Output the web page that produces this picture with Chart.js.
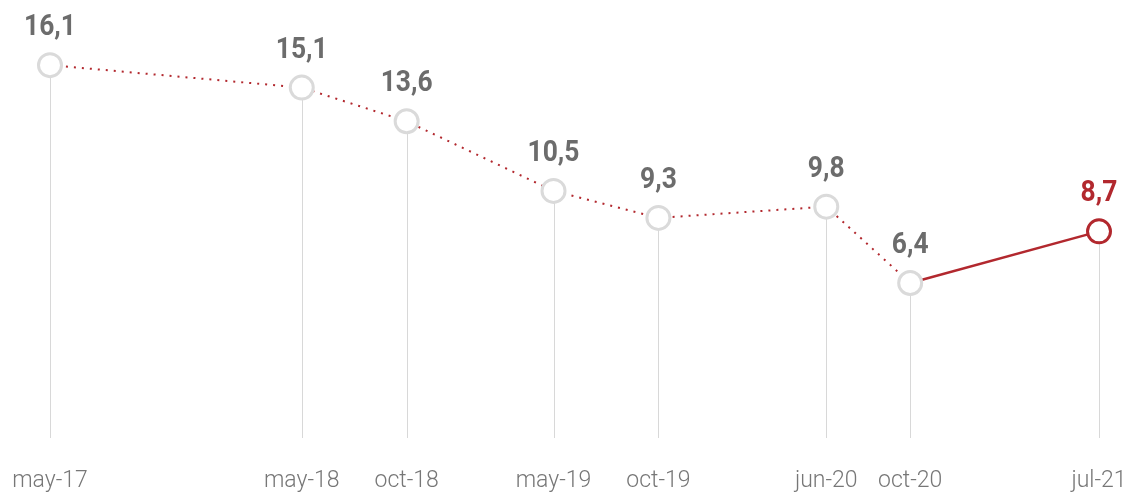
<!DOCTYPE html>
<html>
<head>
<meta charset="utf-8">
<script src="https://cdn.jsdelivr.net/npm/chart.js@4/dist/chart.umd.min.js"></script>
<style>
  html, body { margin: 0; padding: 0; background: #fff; }
</style>
</head>
<body>
<canvas id="myChart" width="1128" height="492"></canvas>
<script>
// months counted from may-17
const months = [0, 12, 17, 24, 29, 37, 41, 50]
const labels = ['may-17', 'may-18', 'oct-18', 'may-19', 'oct-19', 'jun-20', 'oct-20', 'jul-21']
const values = [16.1, 15.1, 13.6, 10.5, 9.3, 9.8, 6.4, 8.7]

const red = '#b2282e'
const grey = '#6c6c6c'
const last = values.length - 1

// vertical lines from each point down to the bottom of the plot
const dropLines = {
  id: 'dropLines',
  beforeDatasetsDraw(chart) {
    const {ctx, chartArea, scales} = chart
    ctx.save()
    ctx.strokeStyle = '#d8d8d8'
    ctx.lineWidth = 1
    months.forEach((m, i) => {
      const x = Math.round(scales.x.getPixelForValue(m)) + 0.5
      const y = scales.y.getPixelForValue(values[i])
      ctx.beginPath()
      ctx.moveTo(x, y)
      ctx.lineTo(x, chartArea.bottom)
      ctx.stroke()
    })
    ctx.restore()
  }
}

// value labels above the points
const valueLabels = {
  id: 'valueLabels',
  afterDatasetsDraw(chart) {
    const {ctx, scales} = chart
    ctx.save()
    ctx.font = 'bold 30px Roboto'
    ctx.textAlign = 'center'
    ctx.textBaseline = 'alphabetic'
    values.forEach((v, i) => {
      const x = scales.x.getPixelForValue(months[i])
      const y = scales.y.getPixelForValue(v)
      ctx.fillStyle = i === last ? red : grey
      ctx.save()
      ctx.translate(x, y - 30)
      ctx.scale(0.88, 1)
      ctx.fillText(v.toFixed(1).replace('.', ','), 0, 0)
      ctx.restore()
    })
    ctx.restore()
  }
}

const ctx = document.getElementById('myChart')
new Chart(ctx, {
  type: 'line',
  data: {
    datasets: [{
      data: months.map((m, i) => ({x: m, y: values[i]})),
      clip: false,
      borderColor: red,
      borderWidth: 2,
      fill: false,
      tension: 0,
      segment: {
        borderDash: c => c.p1DataIndex === last ? undefined : [2, 6],
        borderWidth: c => c.p1DataIndex === last ? 2.5 : 2
      },
      pointRadius: 11.5,
      pointBorderWidth: 3,
      pointBackgroundColor: '#fff',
      pointBorderColor: values.map((v, i) => i === last ? red : '#dadada'),
      pointHoverRadius: 11.5
    }]
  },
  options: {
    responsive: false,
    animation: false,
    devicePixelRatio: 1,
    layout: {
      autoPadding: false,
      padding: 0
    },
    plugins: {
      legend: {display: false},
      tooltip: {enabled: false}
    },
    scales: {
      x: {
        type: 'linear',
        min: -2.383,
        max: 51.382,
        afterBuildTicks: axis => { axis.ticks = months.map(m => ({value: m})) },
        afterFit: axis => {
          axis.paddingLeft = 0
          axis.paddingRight = 0
          axis.height = 54
        },
        ticks: {
          autoSkip: false,
          maxRotation: 0,
          padding: 21,
          color: '#777',
          font: {family: 'Roboto', size: 23, weight: '300'},
          callback: v => labels[months.indexOf(v)]
        },
        grid: {display: false},
        border: {display: false}
      },
      y: {
        display: false,
        min: -0.5,
        max: 19
      }
    }
  },
  plugins: [dropLines, valueLabels]
})
</script>
</body>
</html>
